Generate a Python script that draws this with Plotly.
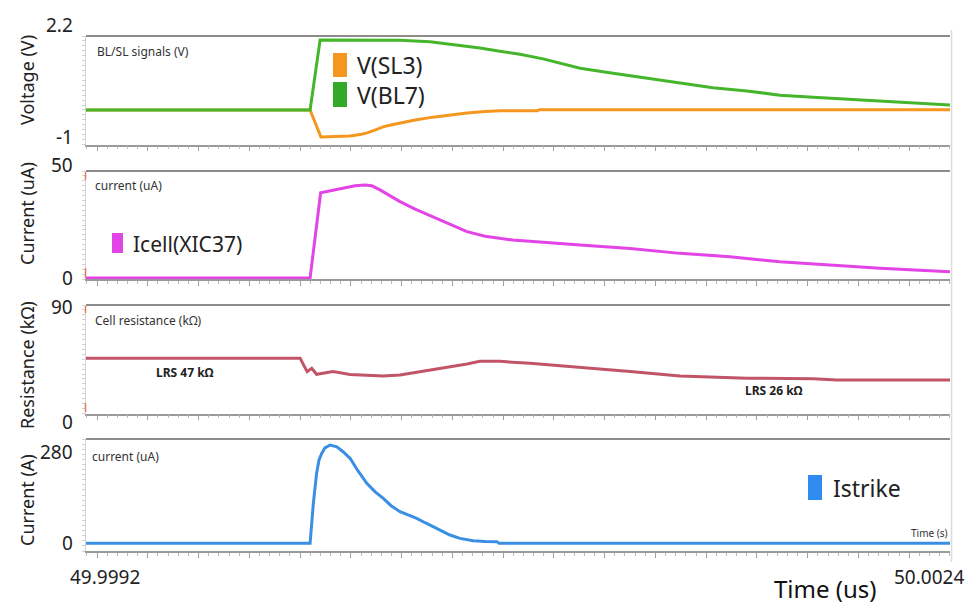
import plotly.graph_objects as go

W, H = 978, 605
X_RANGE = [49.9992, 50.0024]

# ---------------- data (time in us) ----------------
t_bl7 = [49.9992, 50.000030, 50.000067, 50.000104, 50.000363, 50.000474, 50.000567,
         50.000659, 50.000733, 50.000807, 50.000893, 50.001030, 50.001152, 50.001278,
         50.001400, 50.001522, 50.001648, 50.001770, 50.001893, 50.002019, 50.002141,
         50.002263, 50.0024]
v_bl7 = [-0.235, -0.235, 1.77, 1.77, 1.76, 1.72, 1.64, 1.54, 1.45, 1.36, 1.23, 0.96, 0.82,
         0.67, 0.53, 0.40, 0.31, 0.19, 0.13, 0.07, 0.02, -0.04, -0.09]

t_sl3 = [49.9992, 50.000030, 50.000070, 50.000178, 50.000215, 50.000241, 50.000270,
         50.000300, 50.000333, 50.000363, 50.000419, 50.000485, 50.000548, 50.000611,
         50.000678, 50.000733, 50.000870, 50.000880, 50.0024]
v_sl3 = [-0.235, -0.235, -1.01, -0.98, -0.94, -0.89, -0.81, -0.72, -0.66, -0.61, -0.52,
         -0.44, -0.37, -0.32, -0.28, -0.26, -0.26, -0.23, -0.23]

t_icell = [49.9992, 50.000030, 50.000069, 50.000115, 50.000159, 50.000196, 50.000233,
           50.000259, 50.000289, 50.000326, 50.000363, 50.000419, 50.000485, 50.000548,
           50.000611, 50.000678, 50.000733, 50.000781, 50.001030, 50.001215, 50.001400,
           50.001585, 50.001770, 50.001956, 50.002141, 50.0024]
i_cell = [0, 0, 37.7, 38.9, 39.8, 40.8, 41.2, 40.8, 39.0, 36.5, 33.8, 30.5, 27.1, 23.5,
          20.5, 18.5, 17.6, 16.8, 14.6, 13.1, 10.9, 9.4, 7.2, 5.75, 4.3, 2.8]

t_res = [49.9992, 49.999993, 50.000019, 50.000036, 50.000054, 50.000115, 50.000178,
         50.000241, 50.000300, 50.000363, 50.000485, 50.000611, 50.000659, 50.000733,
         50.000844, 50.001030, 50.001215, 50.001400, 50.001648, 50.001893, 50.001981,
         50.0024]
r_cell = [49.7, 49.7, 39.3, 41.9, 37.2, 39.3, 37.0, 36.5, 35.9, 36.6, 40.6, 45.3, 47.3,
          47.3, 45.8, 42.7, 39.3, 35.9, 34.1, 33.8, 32.8, 32.8]

t_strike = [49.9992, 50.000030, 50.000042, 50.000054, 50.000063, 50.000073, 50.000085,
            50.000104, 50.000129, 50.000152, 50.000178, 50.000207, 50.000240, 50.000270,
            50.000301, 50.000330, 50.000363, 50.000393, 50.000425, 50.000456, 50.000486,
            50.000515, 50.000548, 50.000585, 50.000634, 50.000678, 50.000722, 50.000730,
            50.0024]
i_strike = [0, 0, 122, 214, 255, 275, 292, 300.6, 295, 280, 260, 222, 183.5, 158, 137.6,
            115, 96.6, 86, 76.5, 63, 50.8, 38, 25.4, 15, 8, 5.5, 5, 0, 0]

# axis tick labels per panel
tick_vals = [[-1, 2.2], [0, 50], [0, 90], [0, 280]]
tick_text = [["-1", "2.2"], ["0", "50"], ["0", "90"], ["0", "280"]]
y_titles = ["Voltage (V)", "Current (uA)", "Resistance (kΩ)", "Current (A)"]
panel_labels = ["BL/SL signals (V)", "current (uA)", "Cell resistance (kΩ)", "current (uA)"]
x_tick_text = ["49.9992", "50.0024"]

# ---------------- layout helpers ----------------
def px(p):
    return p / W

def py(p):
    return 1 - p / H

panels = [
    dict(top=36, bot=144.5, rng=[-1.224, 1.885]),
    dict(top=171, bot=279, rng=[-0.44, 47.35]),
    dict(top=305, bot=413.5, rng=[6.6, 91.3]),
    dict(top=439, bot=551, rng=[-23.5, 319]),
]
title_y = [80, 214, 365, 500]
label_pos = [(95, 52), (93, 185), (93, 320), (90, 457)]

C_GREEN = "#45b62c"
C_ORANGE = "#f5961e"
C_MAG = "#e244e6"
C_RES = "#c25468"
C_BLUE = "#3a8fe3"

FONT = "Noto Sans"

fig = go.Figure()
series = [
    (t_sl3, v_sl3, C_ORANGE, 1, "V(SL3)"),
    (t_bl7, v_bl7, C_GREEN, 1, "V(BL7)"),
    (t_icell, i_cell, C_MAG, 2, "Icell(XIC37)"),
    (t_res, r_cell, C_RES, 3, "R"),
    (t_strike, i_strike, C_BLUE, 4, "Istrike"),
]
for xs, ys, col, k, name in series:
    sfx = "" if k == 1 else str(k)
    fig.add_trace(go.Scatter(x=xs, y=ys, mode="lines", name=name,
                             line=dict(color=col, width=3),
                             xaxis="x" + sfx, yaxis="y" + sfx, showlegend=False))

maj_t0 = 49.999241
maj_dt = 0.000188
layout = dict(width=W, height=H, margin=dict(l=0, r=0, t=0, b=0),
              paper_bgcolor="white", plot_bgcolor="white", showlegend=False,
              font=dict(family=FONT, color="#222"))
shapes = []
annotations = []

for i, p in enumerate(panels):
    k = i + 1
    sfx = "" if k == 1 else str(k)
    dom = [py(p["bot"]), py(p["top"])]
    r0, r1 = p["rng"]
    layout["xaxis" + sfx] = dict(
        domain=[px(86), px(950)], anchor="y" + sfx, range=X_RANGE,
        showline=True, linecolor="#9a9a9a", linewidth=1.5,
        ticks="outside", ticklen=5, tickcolor="#a0a0a0", tickwidth=1,
        tick0=maj_t0, dtick=maj_dt,
        minor=dict(ticks="outside", ticklen=3, tickcolor="#bbbbbb", tick0=maj_t0, dtick=maj_dt / 5),
        showticklabels=False, showgrid=False, zeroline=False, fixedrange=True)
    layout["yaxis" + sfx] = dict(
        domain=dom, anchor="x" + sfx, range=p["rng"],
        showline=True, linecolor="#d4d4d4", linewidth=1,
        ticks="outside", ticklen=3, tickcolor="#cfcfcf", tick0=r0, dtick=(r1 - r0) / 22,
        showticklabels=False, showgrid=False, zeroline=False, fixedrange=True)
    # top frame line
    shapes.append(dict(type="line", xref="x" + sfx + " domain", yref="y" + sfx + " domain",
                       x0=0, x1=1, y0=1, y1=1, line=dict(color="#8c8c8c", width=2)))
    # tick labels mapped through the axis range
    for v, tx in zip(tick_vals[i], tick_text[i]):
        yy = dom[0] + (v - r0) / (r1 - r0) * (dom[1] - dom[0])
        annotations.append(dict(text=tx, xref="paper", yref="paper", x=px(75), y=yy,
                                xanchor="right", yanchor="middle", showarrow=False,
                                font=dict(size=19, color="#222")))
    # axis title
    annotations.append(dict(text=y_titles[i], xref="paper", yref="paper", x=px(27),
                            y=py(title_y[i]), textangle=-90, xanchor="center", yanchor="middle",
                            showarrow=False, font=dict(size=18, color="#222")))
    lx, ly = label_pos[i]
    annotations.append(dict(text=panel_labels[i], xref="paper", yref="paper", x=px(lx),
                            y=py(ly), xanchor="left", yanchor="middle", showarrow=False,
                            font=dict(size=12, color="#333")))

# right light border
shapes.append(dict(type="line", xref="paper", yref="paper", x0=px(951.5), x1=px(951.5),
                   y0=py(30), y1=py(562), line=dict(color="#dcdcdc", width=1.5)))
# small red marks on left axes
for a, b in [(172, 180), (268, 278), (306, 313), (403, 412)]:
    shapes.append(dict(type="line", xref="paper", yref="paper", x0=px(85.5), x1=px(85.5),
                       y0=py(a), y1=py(b), line=dict(color="#e07a5f", width=1.5)))

# legend swatches
for (x0, x1, y0, y1, col) in [(333, 347, 53, 77, C_ORANGE), (333, 347, 82, 107, "#33a92a"),
                              (112, 123, 233, 253, C_MAG), (808, 822, 475, 500, "#2f8bf0")]:
    shapes.append(dict(type="rect", xref="paper", yref="paper", x0=px(x0), x1=px(x1),
                       y0=py(y1), y1=py(y0), line=dict(width=0), fillcolor=col))
for txt, x, y, s in [("V(SL3)", 355, 65, 23), ("V(BL7)", 355, 95, 23),
                     ("Icell(XIC37)", 131, 244, 21), ("Istrike", 831, 488, 23)]:
    annotations.append(dict(text=txt, xref="paper", yref="paper", x=px(x), y=py(y),
                            xanchor="left", yanchor="middle", showarrow=False,
                            font=dict(size=s, color="#222")))

# LRS labels
for txt, x, y in [("<b>LRS 47 kΩ</b>", 185, 372), ("<b>LRS 26 kΩ</b>", 774, 390)]:
    annotations.append(dict(text=txt, xref="paper", yref="paper", x=px(x), y=py(y),
                            xanchor="center", yanchor="middle", showarrow=False,
                            font=dict(size=12, color="#222")))

annotations.append(dict(text="Time (s)", xref="paper", yref="paper", x=px(950), y=py(533),
                        xanchor="right", yanchor="middle", showarrow=False,
                        font=dict(size=10, color="#333")))
annotations.append(dict(text=x_tick_text[0], xref="paper", yref="paper", x=px(105), y=py(577),
                        xanchor="center", yanchor="middle", showarrow=False,
                        font=dict(size=19, color="#222")))
annotations.append(dict(text=x_tick_text[1], xref="paper", yref="paper", x=px(929), y=py(577),
                        xanchor="center", yanchor="middle", showarrow=False,
                        font=dict(size=19, color="#222")))
annotations.append(dict(text="Time (us)", xref="paper", yref="paper", x=px(825), y=py(588),
                        xanchor="center", yanchor="middle", showarrow=False,
                        font=dict(size=24, color="#111")))

layout["shapes"] = shapes
layout["annotations"] = annotations
fig.update_layout(**layout)
fig.write_html("out.html", config={"displayModeBar": False},
               post_script="document.body.style.margin='0';document.body.style.overflow='hidden';")
